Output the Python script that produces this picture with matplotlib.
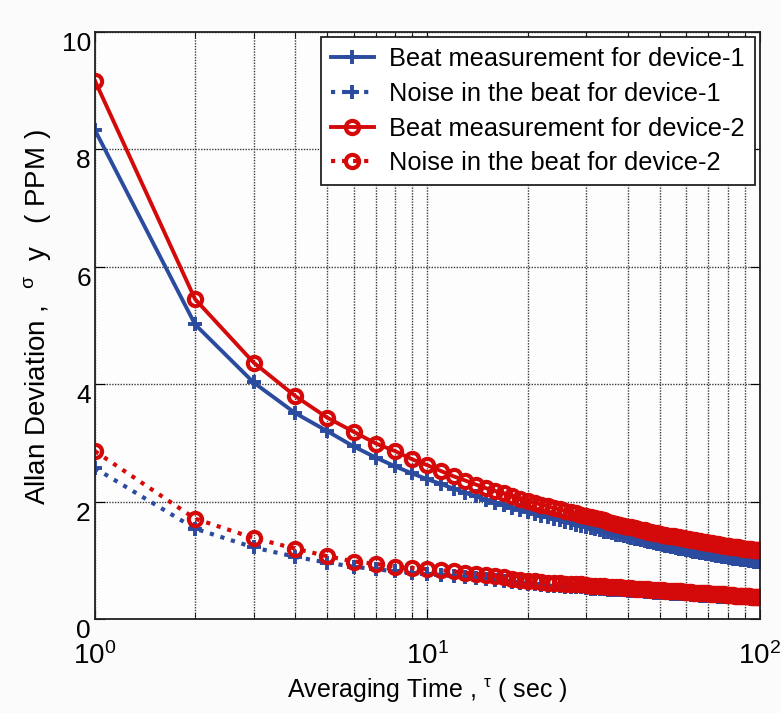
import numpy as np
import matplotlib.pyplot as plt
from matplotlib.ticker import FixedLocator, LogLocator, NullFormatter

plt.rcParams['font.family'] = ['Liberation Sans', 'DejaVu Sans']
plt.rcParams['mathtext.fontset'] = 'custom'
plt.rcParams['mathtext.rm'] = 'Liberation Sans'

tau = list(range(1, 101))

beat_dev1 = [8.33, 5.02, 4.03, 3.51, 3.20, 2.94, 2.75, 2.60, 2.48, 2.38,
             2.30, 2.22, 2.15, 2.09, 2.03, 1.98, 1.94, 1.90, 1.86, 1.82,
             1.79, 1.76, 1.73, 1.70, 1.68, 1.66, 1.64, 1.61, 1.59, 1.57,
             1.55, 1.53, 1.51, 1.49, 1.48, 1.46, 1.44, 1.43, 1.41, 1.40,
             1.38, 1.37, 1.36, 1.35, 1.33, 1.32, 1.31, 1.30, 1.28, 1.27,
             1.26, 1.25, 1.24, 1.23, 1.22, 1.21, 1.20, 1.19, 1.19, 1.18,
             1.17, 1.16, 1.15, 1.15, 1.14, 1.13, 1.12, 1.12, 1.11, 1.10,
             1.10, 1.09, 1.09, 1.08, 1.07, 1.07, 1.06, 1.06, 1.05, 1.05,
             1.04, 1.04, 1.03, 1.03, 1.02, 1.02, 1.02, 1.01, 1.01, 1.00,
             1.00, 1.00, 0.99, 0.99, 0.99, 0.98, 0.98, 0.98, 0.98, 0.98]

noise_dev1 = [2.57, 1.54, 1.22, 1.06, 0.96, 0.89, 0.85, 0.81, 0.79, 0.77,
              0.75, 0.73, 0.71, 0.70, 0.68, 0.66, 0.65, 0.63, 0.62, 0.60,
              0.59, 0.58, 0.57, 0.57, 0.56, 0.55, 0.55, 0.54, 0.54, 0.53,
              0.52, 0.52, 0.51, 0.51, 0.50, 0.50, 0.49, 0.49, 0.49, 0.48,
              0.48, 0.47, 0.47, 0.47, 0.46, 0.46, 0.46, 0.45, 0.45, 0.45,
              0.44, 0.44, 0.44, 0.43, 0.43, 0.43, 0.43, 0.42, 0.42, 0.42,
              0.42, 0.41, 0.41, 0.41, 0.41, 0.40, 0.40, 0.40, 0.40, 0.40,
              0.39, 0.39, 0.39, 0.39, 0.38, 0.38, 0.38, 0.38, 0.38, 0.37,
              0.37, 0.37, 0.37, 0.37, 0.36, 0.36, 0.36, 0.36, 0.36, 0.36,
              0.35, 0.35, 0.35, 0.35, 0.35, 0.35, 0.34, 0.34, 0.34, 0.34]

beat_dev2 = [9.17, 5.45, 4.37, 3.80, 3.43, 3.19, 2.99, 2.86, 2.72, 2.62,
             2.52, 2.43, 2.36, 2.29, 2.23, 2.18, 2.14, 2.10, 2.05, 2.01,
             1.98, 1.95, 1.92, 1.89, 1.87, 1.84, 1.82, 1.80, 1.78, 1.76,
             1.74, 1.72, 1.70, 1.68, 1.66, 1.64, 1.62, 1.61, 1.59, 1.57,
             1.56, 1.55, 1.53, 1.52, 1.51, 1.49, 1.48, 1.47, 1.46, 1.45,
             1.44, 1.43, 1.42, 1.41, 1.41, 1.40, 1.39, 1.38, 1.38, 1.37,
             1.36, 1.35, 1.35, 1.34, 1.33, 1.33, 1.32, 1.31, 1.31, 1.30,
             1.29, 1.29, 1.28, 1.28, 1.27, 1.26, 1.26, 1.25, 1.25, 1.24,
             1.24, 1.23, 1.23, 1.22, 1.22, 1.22, 1.21, 1.21, 1.20, 1.20,
             1.20, 1.19, 1.19, 1.19, 1.18, 1.18, 1.18, 1.17, 1.17, 1.17]

noise_dev2 = [2.86, 1.71, 1.38, 1.20, 1.07, 0.98, 0.94, 0.89, 0.87, 0.85,
              0.83, 0.81, 0.79, 0.77, 0.75, 0.73, 0.71, 0.69, 0.67, 0.65,
              0.64, 0.63, 0.62, 0.62, 0.61, 0.60, 0.60, 0.59, 0.59, 0.58,
              0.57, 0.57, 0.56, 0.56, 0.55, 0.55, 0.54, 0.54, 0.53, 0.53,
              0.53, 0.52, 0.52, 0.51, 0.51, 0.51, 0.50, 0.50, 0.49, 0.49,
              0.49, 0.48, 0.48, 0.48, 0.47, 0.47, 0.47, 0.47, 0.46, 0.46,
              0.46, 0.46, 0.45, 0.45, 0.45, 0.45, 0.44, 0.44, 0.44, 0.44,
              0.43, 0.43, 0.43, 0.43, 0.42, 0.42, 0.42, 0.42, 0.41, 0.41,
              0.41, 0.41, 0.41, 0.40, 0.40, 0.40, 0.40, 0.40, 0.39, 0.39,
              0.39, 0.39, 0.39, 0.38, 0.38, 0.38, 0.38, 0.38, 0.38, 0.37]

labels = ['Beat measurement for device-1', 'Noise in the beat for device-1',
          'Beat measurement for device-2', 'Noise in the beat for device-2']

blue = '#2b4b9e'
red = '#d40a0a'

fig = plt.figure(figsize=(7.81, 7.13), dpi=100, facecolor='#fbfbfb')
ax = fig.add_axes([0.1216, 0.1318, 0.8514, 0.8232])
ax.set_facecolor('#fdfdfd')

ax.plot(tau, beat_dev1, '-+', color=blue, lw=2.8, ms=9.5, mew=2.8, label=labels[0])
ax.plot(tau, noise_dev1, ':+', color=blue, lw=3.0, ms=9.5, mew=2.8, label=labels[1])
ax.plot(tau, beat_dev2, '-o', color=red, lw=2.8, ms=9.5, mew=3.0, mfc='none', label=labels[2])
ax.plot(tau, noise_dev2, ':o', color=red, lw=3.0, ms=9.5, mew=3.0, mfc='none', label=labels[3])

ax.set_xscale('log')
ax.set_xlim(1, 100)
ax.set_ylim(0, 10)
ax.xaxis.set_major_locator(FixedLocator([1, 10, 100]))
ax.xaxis.set_minor_locator(LogLocator(base=10, subs=np.arange(2, 10), numticks=10))
ax.xaxis.set_minor_formatter(NullFormatter())
ax.set_xticks([1, 10, 100])
ax.set_xticklabels([r'$\mathregular{10^0}$', r'$\mathregular{10^1}$', r'$\mathregular{10^2}$'])
ax.set_yticks([0, 2, 4, 6, 8, 10])

ax.grid(True, which='major', color='#3a3a3a', linestyle=(0, (1, 1)), linewidth=1.0)
ax.grid(True, which='minor', axis='x', color='#3a3a3a', linestyle=(0, (1, 1)), linewidth=1.0)
ax.tick_params(which='both', direction='in', top=True, right=True)
ax.tick_params(axis='x', labelsize=20, pad=17)
ax.tick_params(axis='y', labelsize=19, pad=3)
ax.tick_params(which='major', length=7)
ax.tick_params(which='minor', length=4)
for lab in ax.get_yticklabels():
    lab.set_verticalalignment('top')
for s in ax.spines.values():
    s.set_linewidth(1.3)
    s.set_color('#222222')

ax.set_xlabel(r'Averaging Time , $\mathregular{^{\tau}}$ ( sec )', fontsize=18, labelpad=4)
ax.set_ylabel(r'Allan Deviation ,  $\mathregular{^{\sigma}}$  y   ( PPM )', fontsize=20)
ax.yaxis.set_label_coords(-0.063, 0.515)

leg = ax.legend(loc='upper right', bbox_to_anchor=(0.9925, 0.9915), fontsize=18.3,
                frameon=True, fancybox=False, framealpha=1, edgecolor='#222222',
                handlelength=1.7, handletextpad=0.6, borderpad=0.4, labelspacing=0.42,
                borderaxespad=0)
leg.get_frame().set_linewidth(1.3)

fig.savefig('out.png', dpi=100, facecolor=fig.get_facecolor())
